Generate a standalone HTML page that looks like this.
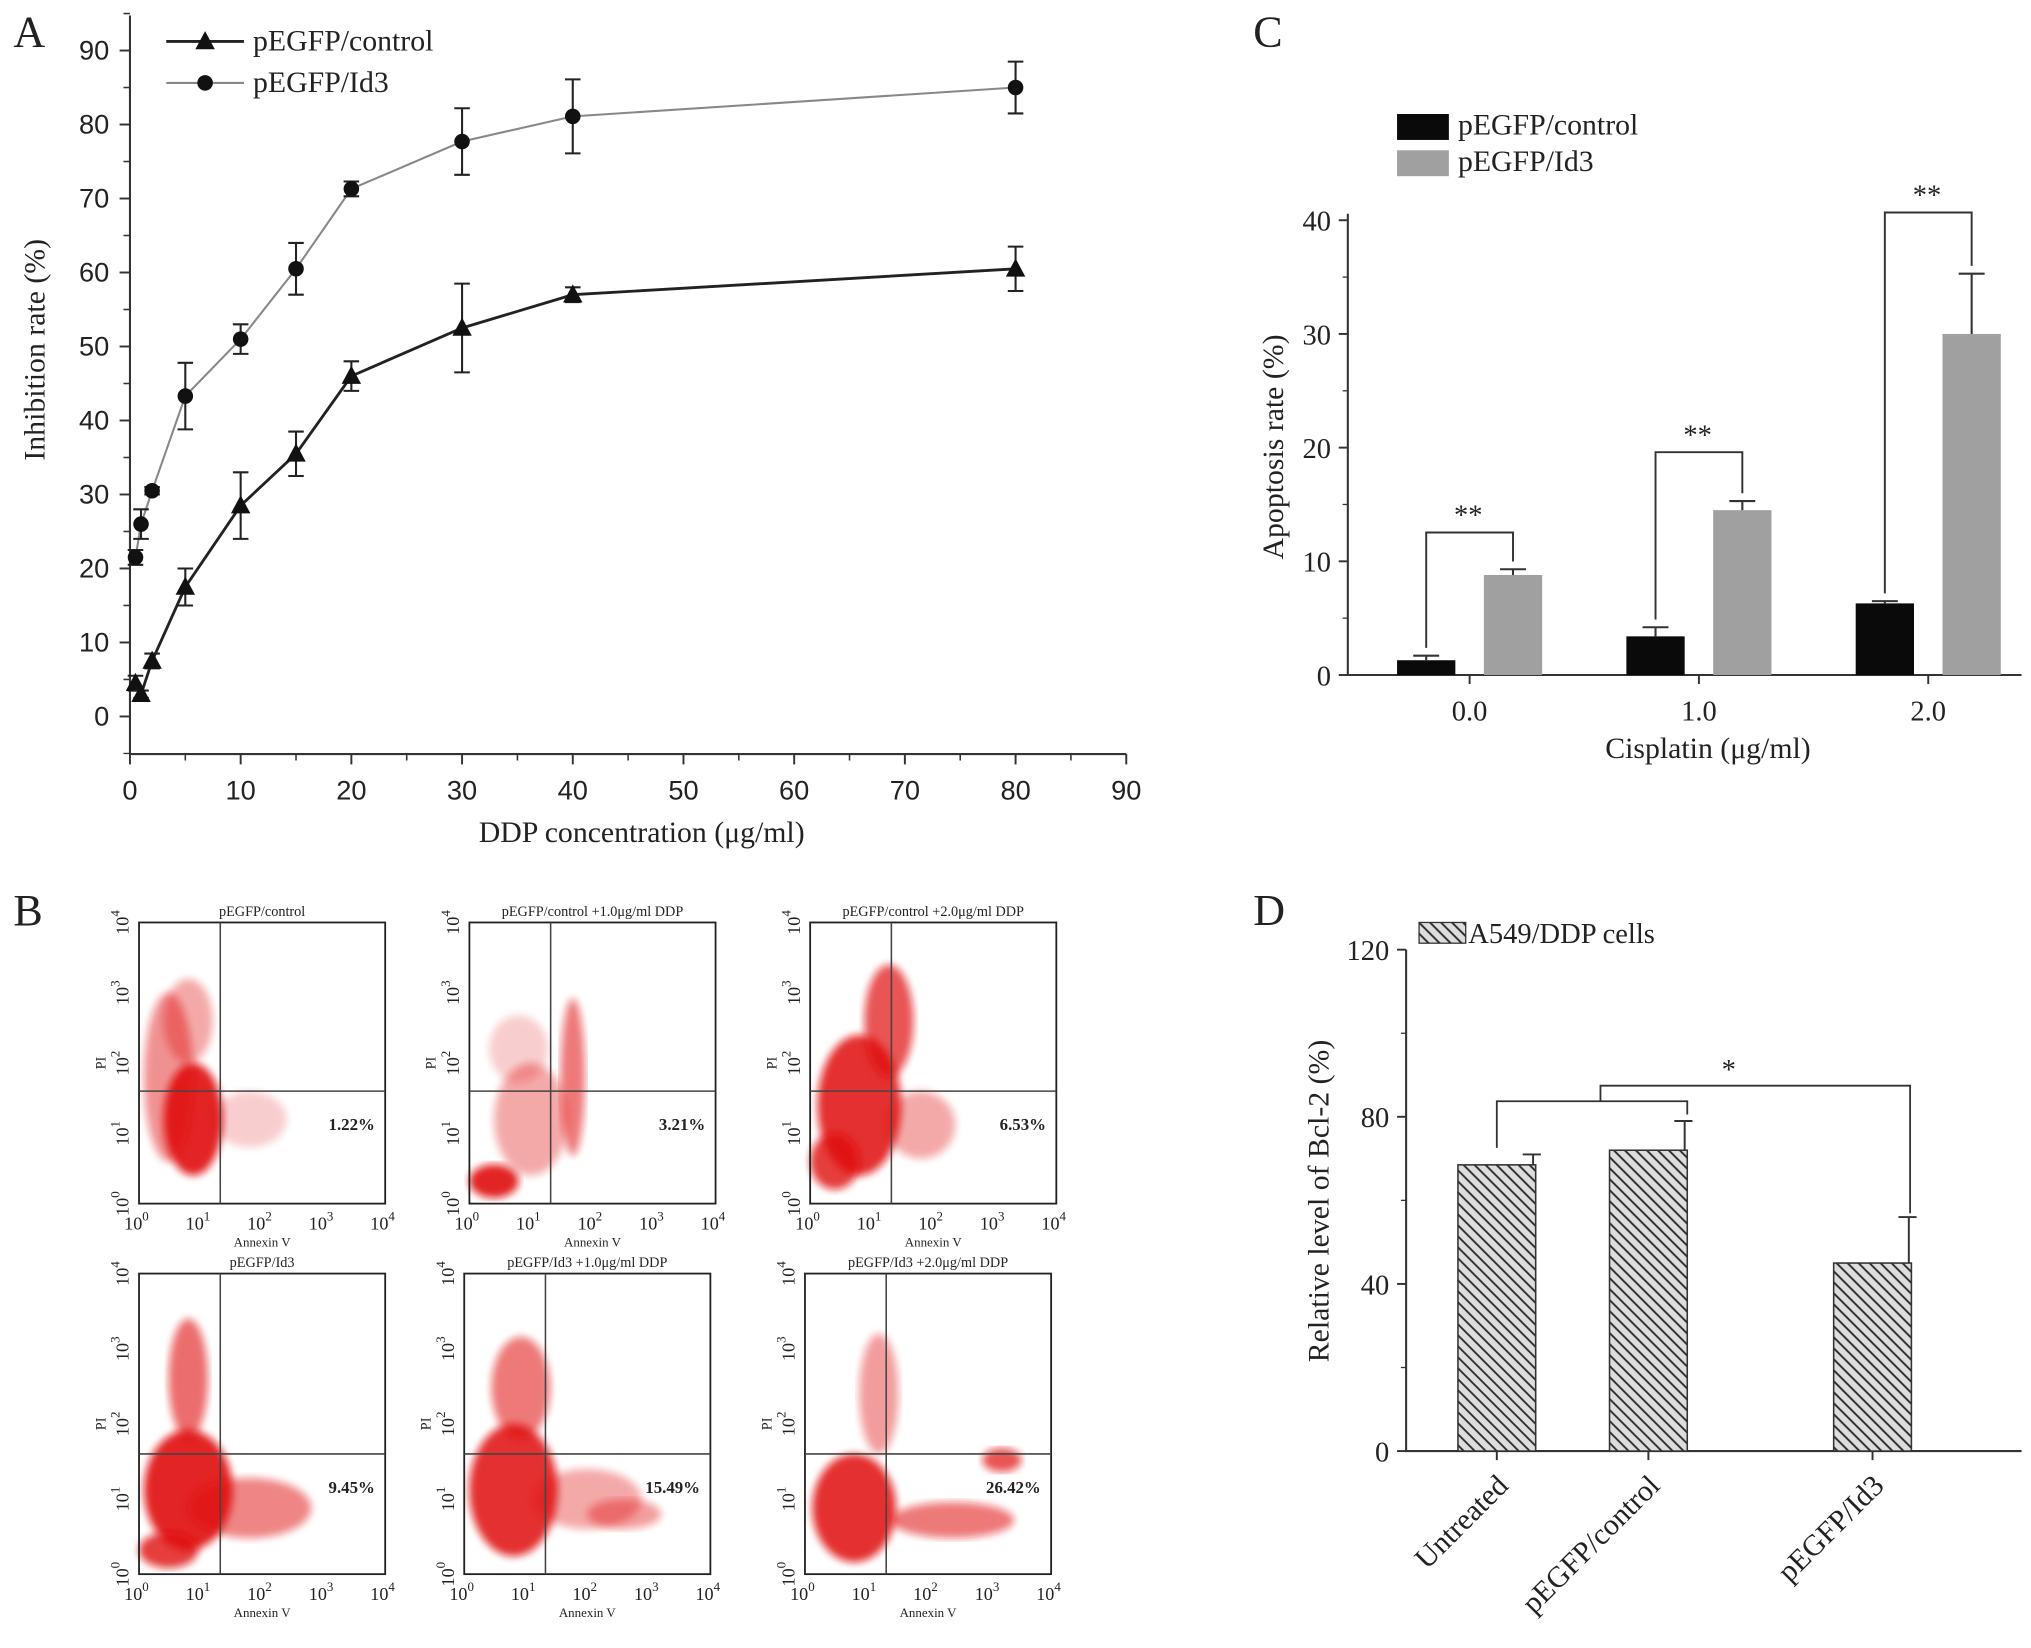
<!DOCTYPE html>
<html><head><meta charset="utf-8"><style>
html,body{margin:0;padding:0;background:#fff}
svg{display:block}
text{font-family:"Liberation Serif",serif;fill:#222}
.s{font-family:"Liberation Sans",sans-serif}
</style></head><body>
<svg id="fig" width="2031" height="1648" viewBox="0 0 1567 1272" xmlns="http://www.w3.org/2000/svg">
<defs>
<pattern id="hatch" width="6" height="6" patternUnits="userSpaceOnUse" patternTransform="rotate(-45)"><rect width="6" height="6" fill="#ddd"/><line x1="0" y1="0" x2="0" y2="6" stroke="#333" stroke-width="3"/></pattern>
<filter id="blur"><feGaussianBlur stdDeviation="3"/></filter>
</defs>
<g id="pA"></g>
<g id="pC"></g>
<g id="pD"></g>
<g id="pB"></g>
</svg>
<script>
const NS="http://www.w3.org/2000/svg";
function mk(p,t,a,txt){const e=document.createElementNS(NS,t);for(const k in a)e.setAttribute(k,a[k]);if(txt!==undefined)e.textContent=txt;p.appendChild(e);return e;}

// Panel A data
const concA=[0.5,1,2,5,10,15,20,30,40,80];
const ctrlA=[4.5,3,7.5,17.5,28.5,35.5,46,52.5,57,60.5];
const ctrlErr=[1,0.5,1,2.5,4.5,3,2,6,1,3];
const id3A=[21.5,26,30.5,43.3,51,60.5,71.3,77.7,81.1,85];
const id3Err=[1,2,0.5,4.5,2,3.5,1,4.5,5,3.5];
const xTicksA=[0,10,20,30,40,50,60,70,80,90];
const yTicksA=[0,10,20,30,40,50,60,70,80,90];
// Panel C data
const catsC=["0.0","1.0","2.0"];
const ctrlC=[1.3,3.4,6.3], ctrlCErr=[0.4,0.8,0.2];
const id3C=[8.8,14.5,30], id3CErr=[0.5,0.8,5.3];
const yTicksC=[0,10,20,30,40];
// Panel D data
const catsD=["Untreated","pEGFP/control","pEGFP/Id3"];
const valsD=[68.5,72,45], errD=[2.5,7,11];
const yTicksD=[0,40,80,120];
// Panel B data
const flowTitles=["pEGFP/control","pEGFP/control +1.0μg/ml DDP","pEGFP/control +2.0μg/ml DDP","pEGFP/Id3","pEGFP/Id3 +1.0μg/ml DDP","pEGFP/Id3 +2.0μg/ml DDP"];
const flowPct=["1.22%","3.21%","6.53%","9.45%","15.49%","26.42%"];

// ---------- Panel A ----------
(function(){
const g=document.getElementById('pA');
const xA=v=>100+v*(769/90), yA=v=>553-v*(514/90);
mk(g,'text',{x:10,y:36,'font-size':34},'A');
const ax=mk(g,'path',{d:`M100 12 V582 H869`,fill:'none',stroke:'#333','stroke-width':1.6});

xTicksA.forEach(t=>{mk(g,'line',{x1:xA(t),x2:xA(t),y1:582,y2:590,stroke:'#333','stroke-width':1.5});
 if(t<90)mk(g,'line',{x1:xA(t+5),x2:xA(t+5),y1:582,y2:587,stroke:'#333','stroke-width':1.2});
 const e=mk(g,'text',{x:xA(t),y:617,'text-anchor':'middle','font-size':21,class:'s'},t);});
yTicksA.forEach(t=>{mk(g,'line',{x1:92,x2:100,y1:yA(t),y2:yA(t),stroke:'#333','stroke-width':1.5});
 mk(g,'line',{x1:95,x2:100,y1:yA(t+5),y2:yA(t+5),stroke:'#333','stroke-width':1.2});
 const e=mk(g,'text',{x:84,y:yA(t)+7,'text-anchor':'end','font-size':21,class:'s'},t);});
mk(g,'line',{x1:95,x2:100,y1:yA(-5),y2:yA(-5),stroke:'#333'});
let e=mk(g,'text',{x:495,y:650,'text-anchor':'middle','font-size':23},'DDP concentration (μg/ml)');
e=mk(g,'text',{transform:'translate(34,270) rotate(-90)','text-anchor':'middle','font-size':23},'Inhibition rate (%)');
function series(vals,errs,col,w,marker,name){
 const pts=concA.map((c,i)=>`${xA(c)},${yA(vals[i])}`).join(' ');
 const l=mk(g,'polyline',{points:pts,fill:'none',stroke:col,'stroke-width':w});
 concA.forEach((c,i)=>{const x=xA(c),y1=yA(vals[i]+errs[i]),y2=yA(vals[i]-errs[i]);
  mk(g,'path',{d:`M${x} ${y1}V${y2}M${x-6} ${y1}H${x+6}M${x-6} ${y2}H${x+6}`,stroke:'#222','stroke-width':1.6,fill:'none'});
  let m;
  if(marker==='tri'){const y=yA(vals[i]);m=mk(g,'path',{d:`M${x} ${y-8}L${x+7.5} ${y+6}L${x-7.5} ${y+6}Z`,fill:'#111'});}
  else m=mk(g,'circle',{cx:x,cy:yA(vals[i]),r:6,fill:'#111'});
  });
}
series(id3A,id3Err,'#888',1.6,'dot','id3');
series(ctrlA,ctrlErr,'#222',2.2,'tri','control');
mk(g,'line',{x1:128,x2:188,y1:32,y2:32,stroke:'#222','stroke-width':2.2});
mk(g,'path',{d:'M158 24L165.5 38L150.5 38Z',fill:'#111'});
e=mk(g,'text',{x:195,y:39,'font-size':23},'pEGFP/control');
mk(g,'line',{x1:128,x2:188,y1:64,y2:64,stroke:'#888','stroke-width':1.6});
mk(g,'circle',{cx:158,cy:64,r:6,fill:'#111'});
e=mk(g,'text',{x:195,y:71,'font-size':23},'pEGFP/Id3');
})();

// ---------- Panel C ----------
(function(){
const g=document.getElementById('pC');
const yC=v=>521-v*(351/40);
const centers=[1134,1311,1488];
mk(g,'text',{x:967,y:36,'font-size':34},'C');
mk(g,'path',{d:'M1040 165V521H1560',fill:'none',stroke:'#333','stroke-width':1.6});
yTicksC.forEach(t=>{mk(g,'line',{x1:1033,x2:1040,y1:yC(t),y2:yC(t),stroke:'#333','stroke-width':1.5});
 if(t<40)mk(g,'line',{x1:1036,x2:1040,y1:yC(t+5),y2:yC(t+5),stroke:'#333'});
 const e=mk(g,'text',{x:1027,y:yC(t)+8,'text-anchor':'end','font-size':22},t);});
catsC.forEach((c,i)=>{mk(g,'line',{x1:centers[i],x2:centers[i],y1:521,y2:528,stroke:'#333','stroke-width':1.5});
 const e=mk(g,'text',{x:centers[i],y:556,'text-anchor':'middle','font-size':22},c);
 const bx1=centers[i]-56,bx2=centers[i]+11,w=45;
 const b1=mk(g,'rect',{x:bx1,y:yC(ctrlC[i]),width:w,height:521-yC(ctrlC[i]),fill:'#0a0a0a'});
 const b2=mk(g,'rect',{x:bx2,y:yC(id3C[i]),width:w,height:521-yC(id3C[i]),fill:'#a0a0a0'});
 [[bx1+w/2,ctrlC[i],ctrlCErr[i]],[bx2+w/2,id3C[i],id3CErr[i]]].forEach(([x,v,er])=>{
  mk(g,'path',{d:`M${x} ${yC(v)}V${yC(v+er)}M${x-10} ${yC(v+er)}H${x+10}`,stroke:'#333','stroke-width':1.6,fill:'none'});});
 const tt=i==2?164:(i==1?349:411);
 mk(g,'path',{d:`M${bx1+w/2} ${yC(ctrlC[i]+ctrlCErr[i])-6}V${tt}H${bx2+w/2}V${yC(id3C[i]+id3CErr[i])-6}`,fill:'none',stroke:'#333','stroke-width':1.5});
 const st=mk(g,'text',{x:centers[i]-1,y:tt-6,'text-anchor':'middle','font-size':22,fill:'#555'},'**');
});
let e=mk(g,'text',{x:1318,y:585,'text-anchor':'middle','font-size':23},'Cisplatin (μg/ml)');
e=mk(g,'text',{transform:'translate(990,345) rotate(-90)','text-anchor':'middle','font-size':23},'Apoptosis rate (%)');
mk(g,'rect',{x:1078,y:88,width:40,height:20,fill:'#0a0a0a'});
e=mk(g,'text',{x:1125,y:104,'font-size':23},'pEGFP/control');
mk(g,'rect',{x:1078,y:116,width:40,height:20,fill:'#a0a0a0'});
e=mk(g,'text',{x:1125,y:132,'font-size':23},'pEGFP/Id3');
})();

// ---------- Panel D ----------
(function(){
const g=document.getElementById('pD');
const yD=v=>1120-v*(387/120);
const centers=[1155,1272,1445];
mk(g,'text',{x:967,y:714,'font-size':34},'D');
mk(g,'path',{d:'M1085 733V1120H1560',fill:'none',stroke:'#333','stroke-width':1.6});
yTicksD.forEach(t=>{mk(g,'line',{x1:1078,x2:1085,y1:yD(t),y2:yD(t),stroke:'#333','stroke-width':1.5});
 if(t<120)mk(g,'line',{x1:1081,x2:1085,y1:yD(t+20),y2:yD(t+20),stroke:'#333'});
 const e=mk(g,'text',{x:1072,y:yD(t)+8,'text-anchor':'end','font-size':22},t);});
catsD.forEach((c,i)=>{const x=centers[i];
 mk(g,'line',{x1:x,x2:x,y1:1120,y2:1127,stroke:'#333','stroke-width':1.5});
 const b=mk(g,'rect',{x:x-30,y:yD(valsD[i]),width:60,height:1120-yD(valsD[i]),fill:'url(#hatch)',stroke:'#333','stroke-width':1.2});
 mk(g,'path',{d:`M${x+28} ${yD(valsD[i])}V${yD(valsD[i]+errD[i])}M${x+20} ${yD(valsD[i]+errD[i])}H${x+34}`,stroke:'#333','stroke-width':1.5,fill:'none'});
 const e=mk(g,'text',{transform:`translate(${x+10},${1148}) rotate(-45)`,'text-anchor':'end','font-size':23},c);
});
mk(g,'path',{d:`M${centers[0]} ${yD(valsD[0]+errD[0])-5}V850H1302V${yD(valsD[1]+errD[1])-5}M1235 850V838H1474V${yD(valsD[2]+errD[2])-3}`,fill:'none',stroke:'#333','stroke-width':1.4});
let e=mk(g,'text',{x:1334,y:833,'text-anchor':'middle','font-size':22,fill:'#444'},'*');
e=mk(g,'text',{transform:'translate(1025,927) rotate(-90)','text-anchor':'middle','font-size':23},'Relative level of Bcl-2 (%)');
mk(g,'rect',{x:1095,y:712,width:36,height:16,fill:'url(#hatch)',stroke:'#333'});
e=mk(g,'text',{x:1133,y:728,'font-size':22},'A549/DDP cells');
})();

// ---------- Panel B ----------
(function(){
const g=document.getElementById('pB');
mk(g,'text',{x:10,y:714,'font-size':34},'B');
const boxes=[[107,712,297,929],[362,712,552,929],[625,712,815,929],[107,983,297,1215],[358,983,548,1215],[621,983,811,1215]];
const blobs=[
 [[0.22,0.7,0.12,0.2,0.9],[0.12,0.55,0.1,0.3,0.45],[0.2,0.35,0.1,0.15,0.35],[0.45,0.7,0.15,0.1,0.2]],
 [[0.1,0.92,0.1,0.06,0.9],[0.25,0.7,0.15,0.2,0.35],[0.42,0.55,0.05,0.28,0.55],[0.2,0.45,0.12,0.12,0.2]],
 [[0.2,0.65,0.17,0.25,0.85],[0.32,0.35,0.1,0.2,0.7],[0.45,0.72,0.14,0.12,0.35],[0.1,0.85,0.1,0.1,0.8]],
 [[0.2,0.72,0.18,0.2,0.9],[0.2,0.35,0.08,0.2,0.6],[0.45,0.78,0.25,0.1,0.5],[0.12,0.92,0.12,0.06,0.8]],
 [[0.2,0.72,0.18,0.22,0.85],[0.23,0.38,0.12,0.17,0.55],[0.5,0.75,0.22,0.1,0.35],[0.65,0.8,0.15,0.05,0.4]],
 [[0.2,0.78,0.17,0.18,0.85],[0.3,0.4,0.08,0.2,0.4],[0.6,0.82,0.25,0.06,0.55],[0.8,0.62,0.08,0.04,0.7]]];
boxes.forEach((b,i)=>{const [x1,y1,x2,y2]=b,w=x2-x1,h=y2-y1;
 const cg=mk(g,'g',{});
 blobs[i].forEach(([cx,cy,rx,ry,o])=>mk(cg,'ellipse',{cx:x1+cx*w,cy:y1+cy*h,rx:rx*w,ry:ry*h,fill:'#e01010',opacity:o,filter:'url(#blur)'}));
 mk(cg,'rect',{x:x1,y:y1,width:w,height:h,fill:'none',stroke:'#222','stroke-width':1.4});
 const qx=x1+w*0.33,qy=y1+h*0.6;
 mk(cg,'line',{x1:qx,x2:qx,y1:y1,y2:y2,stroke:'#444','stroke-width':1.2});
 mk(cg,'line',{x1:x1,x2:x2,y1:qy,y2:qy,stroke:'#444','stroke-width':1.2});
 let e=mk(cg,'text',{x:(x1+x2)/2,y:y1-5,'text-anchor':'middle','font-size':11},flowTitles[i]);
 e=mk(cg,'text',{x:x2-8,y:qy+30,'text-anchor':'end','font-size':13,'font-weight':'bold','font-family':'Liberation Mono,monospace'},flowPct[i]);
 for(let k=0;k<=4;k++){const tx=x1+k*w/4;
  const t1=mk(cg,'text',{x:tx-2,y:y2+20,'text-anchor':'middle','font-size':14},'10');
  mk(t1,'tspan',{dy:-7,'font-size':10},k);
  const ty=y2-k*h/4;
  const t2=mk(cg,'text',{transform:`translate(${x1-8},${ty}) rotate(-90)`,'text-anchor':'middle','font-size':14},'10');
  mk(t2,'tspan',{dy:-7,'font-size':10},k);}
 mk(cg,'text',{x:(x1+x2)/2,y:y2+33,'text-anchor':'middle','font-size':10},'Annexin V');
 mk(cg,'text',{transform:`translate(${x1-26},${y1+h*0.5}) rotate(-90)`,'text-anchor':'middle','font-size':11},'PI');
});
})();
</script>
</body></html>
